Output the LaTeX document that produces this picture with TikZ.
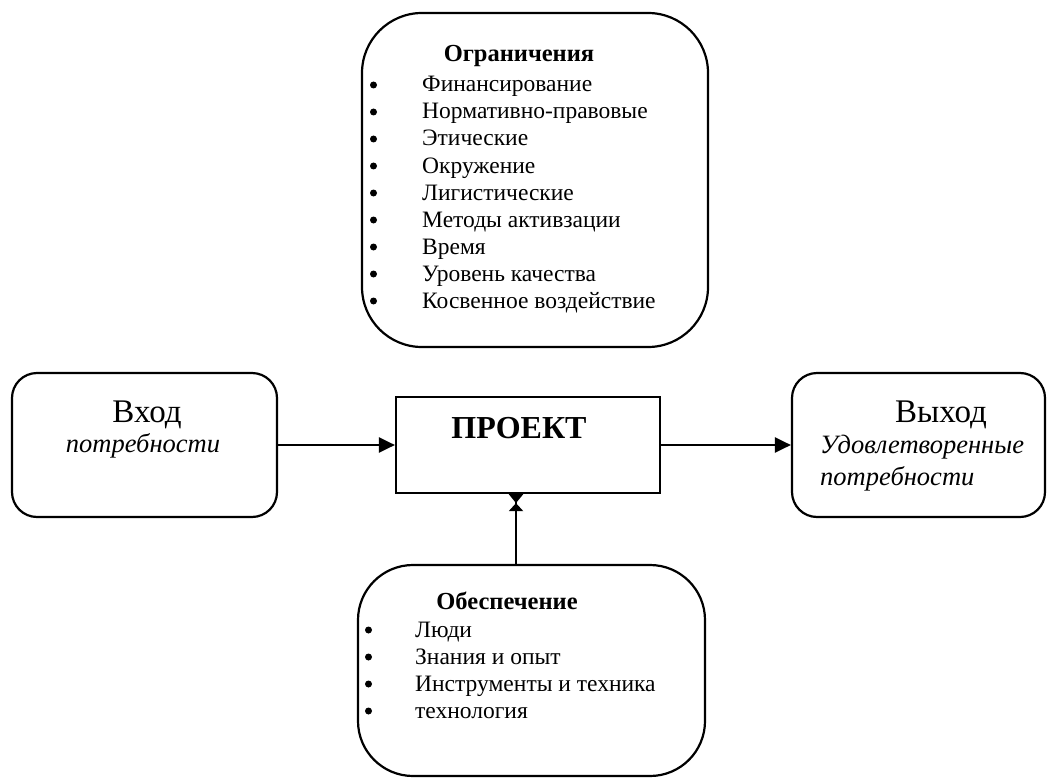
\documentclass[tikz,border=0pt]{standalone}
\usepackage{fontspec}
\setmainfont{Liberation Serif}
\usetikzlibrary{arrows.meta}
\begin{document}
\begin{tikzpicture}[x=1pt,y=-1pt,
  box/.style={draw,line width=2.2pt,rounded corners=#1,inner sep=0pt},
  plain/.style={draw,line width=2.2pt,inner sep=0pt},
  item/.style={inner sep=0pt,anchor=base west,font=\fontsize{23.5}{27}\selectfont},
  bul/.style={fill,circle,inner sep=0pt,minimum size=7pt},
  hdr/.style={inner sep=0pt,anchor=base,font=\fontsize{24.5}{28}\selectfont\bfseries},
  big/.style={inner sep=0pt,anchor=base,font=\fontsize{33}{38}\selectfont},
  ital/.style={inner sep=0pt,font=\fontsize{26.5}{30}\selectfont\itshape},
  arr/.style={line width=2.2pt,-{Triangle[length=16pt,width=15pt]}},
  arrv/.style={line width=2.2pt,-{Triangle[length=8pt,width=14pt,sep=0pt]Triangle[reversed,length=9pt,width=14pt]}}
]
\useasboundingbox (0,0) rectangle (1048,778);
% boxes
\node[box=60pt,minimum width=346pt,minimum height=334pt] (lim) at (535,180) {};
\node[box=25pt,minimum width=265pt,minimum height=144pt] (in) at (144.5,445) {};
\node[box=25pt,minimum width=253pt,minimum height=144pt] (out) at (918.5,445) {};
\node[plain,minimum width=264pt,minimum height=96pt] (proj) at (528,445) {};
\node[box=55pt,minimum width=347pt,minimum height=211pt] (sup) at (531.5,670.5) {};
% top box text
\node[hdr] (limh) at (519,62) {Ограничения};
\foreach \t [count=\i] in {Финансирование,Нормативно-правовые,Этические,Окружение,Лигистические,Методы активзации,Время,Уровень качества,Косвенное воздействиe}{
  \node[bul] (lb\i) at (373.5,58+27*\i) {};
  \node[item] (lt\i) at (422,65+27*\i) {\t};
}
% left box
\node[big] (inh) at (147,422) {Вход};
\node[ital,anchor=base] (int) at (143,452) {потребности};
% right box
\node[big] (outh) at (941,422) {Выход};
\node[ital,anchor=base west] (outt1) at (820,453) {Удовлетворенные};
\node[ital,anchor=base west] (outt2) at (820,485) {потребности};
% project
\node[inner sep=0pt,anchor=base,font=\fontsize{32}{38}\selectfont\bfseries] (projt) at (519,438) {ПРОЕКТ};
% bottom box text
\node[hdr] (suph) at (507,609) {Обеспечение};
\foreach \t [count=\i] in {Люди,Знания и опыт,Инструменты и техника,технология}{
  \node[bul] (sb\i) at (368.5,603+27*\i) {};
  \node[item] (st\i) at (415,610+27*\i) {\t};
}
% connectors
\draw[arr] (in.east) -- (proj.west);
\draw[arr] (proj.east) -- (out.west);
\coordinate (va) at (516,565);
\draw[arrv] (va) -- (va |- proj.south);
\end{tikzpicture}
\end{document}
